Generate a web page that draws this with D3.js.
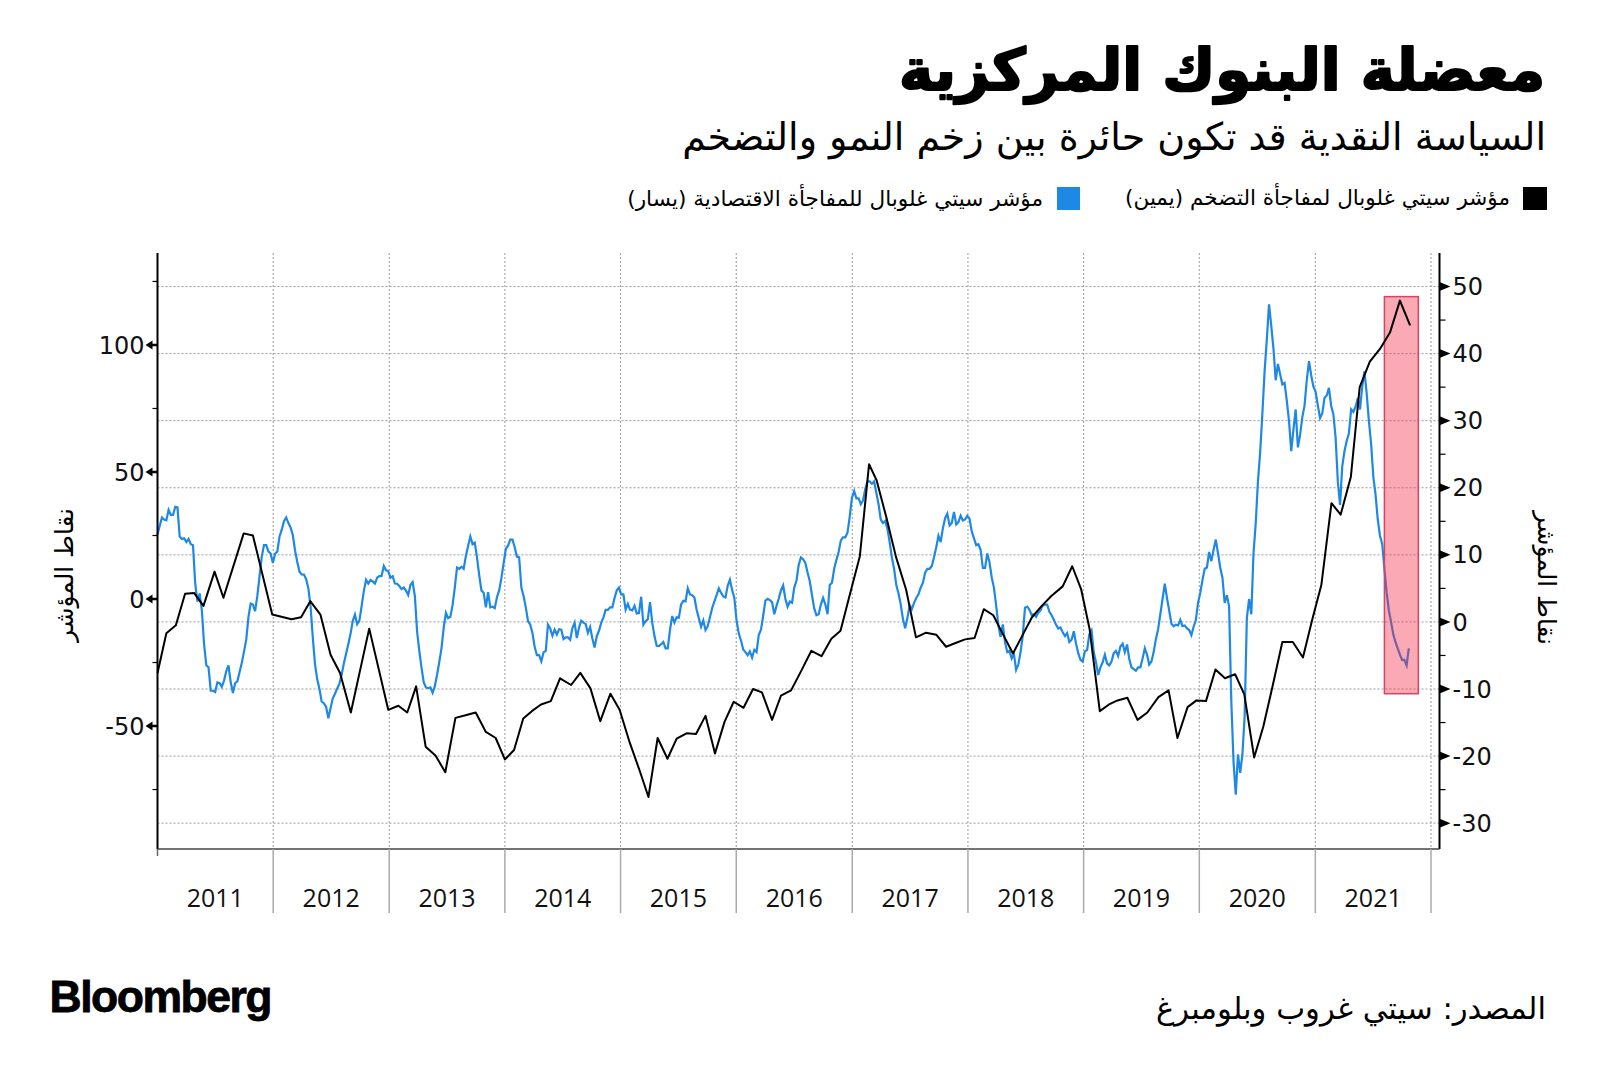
<!DOCTYPE html>
<html>
<head>
<meta charset="utf-8">
<script src="https://cdn.jsdelivr.net/npm/d3@7"></script>
<style>
  html, body { margin: 0; padding: 0; background: #fff; }
  svg { display: block; }
</style>
</head>
<body>
<div id="chart"></div>
<script>
// Central banks' dilemma: Citi inflation surprise vs Citi economic surprise

const titleText = "معضلة البنوك المركزية";
const subtitleText = "السياسة النقدية قد تكون حائرة بين زخم النمو والتضخم";
const legendInflation = "مؤشر سيتي غلوبال لمفاجأة التضخم (يمين)";
const legendEconomic = "مؤشر سيتي غلوبال للمفاجأة الاقتصادية (يسار)";
const axisTitle = "نقاط المؤشر";
const sourceText = "المصدر: سيتي غروب وبلومبرغ";

const years = [2011, 2012, 2013, 2014, 2015, 2016, 2017, 2018, 2019, 2020, 2021];
const leftTicks = [-50, 0, 50, 100];
const leftMinorTicks = [-75, -25, 25, 75, 125];
const rightTicks = [-30, -20, -10, 0, 10, 20, 30, 40, 50];
const rightMinorTicks = [-25, -15, -5, 5, 15, 25, 35, 45];

// inflation surprise index (right axis), monthly readings
const inflationSurprise = [
  ["2011-01-01",-7.6],["2011-01-29",-1.7],["2011-02-28",-0.5],["2011-03-29",4.2],["2011-04-27",4.3],["2011-05-26",2.4],
  ["2011-06-30",7.5],["2011-07-28",3.6],["2011-09-30",13.2],["2011-10-29",12.9],["2011-12-29",1.1],["2012-02-28",0.4],
  ["2012-03-29",0.7],["2012-04-27",3.1],["2012-05-29",1.1],["2012-06-30",-4.9],["2012-07-30",-7.6],["2012-09-02",-13.5],
  ["2012-10-30",-1.0],["2012-12-29",-13.1],["2013-01-30",-12.5],["2013-02-27",-13.5],["2013-03-27",-9.6],["2013-04-26",-18.6],
  ["2013-05-27",-19.9],["2013-06-27",-22.4],["2013-07-29",-14.3],["2013-08-30",-13.9],["2013-10-01",-13.5],["2013-11-02",-16.4],
  ["2013-12-03",-17.3],["2014-01-01",-20.5],["2014-01-30",-19.1],["2014-02-28",-14.4],["2014-03-27",-13.3],["2014-04-25",-12.3],
  ["2014-05-26",-11.8],["2014-06-24",-8.4],["2014-07-29",-9.4],["2014-08-27",-7.6],["2014-09-28",-9.9],["2014-10-29",-14.8],
  ["2014-11-30",-10.7],["2014-12-29",-13.1],["2015-01-30",-18.0],["2015-03-01",-22.0],["2015-03-30",-26.1],["2015-04-28",-17.3],
  ["2015-05-29",-20.4],["2015-06-27",-17.4],["2015-07-28",-16.6],["2015-08-27",-16.7],["2015-09-26",-14.0],["2015-10-26",-19.6],
  ["2015-11-25",-14.9],["2015-12-24",-11.9],["2016-01-24",-12.8],["2016-02-23",-10.0],["2016-03-22",-10.5],["2016-04-23",-14.6],
  ["2016-05-21",-11.0],["2016-06-22",-10.2],["2016-07-24",-7.3],["2016-08-25",-4.3],["2016-09-26",-5.1],["2016-10-27",-2.5],
  ["2016-11-25",-1.3],["2016-12-24",4.0],["2017-01-25",9.8],["2017-02-23",23.5],["2017-03-19",21.1],["2017-04-18",15.7],
  ["2017-05-19",9.7],["2017-06-20",4.8],["2017-07-21",-2.3],["2017-08-22",-1.6],["2017-09-23",-1.9],["2017-10-24",-3.7],
  ["2017-11-25",-3.1],["2017-12-23",-2.6],["2018-01-22",-2.4],["2018-02-20",1.9],["2018-03-22",1.0],["2018-04-20",-1.7],
  ["2018-05-23",-4.7],["2018-06-22",-2.0],["2018-07-22",0.7],["2018-08-22",2.4],["2018-09-22",3.9],["2018-10-27",5.3],
  ["2018-11-26",8.3],["2018-12-24",4.9],["2019-01-20",-1.1],["2019-02-21",-13.3],["2019-03-22",-12.3],["2019-04-18",-11.7],
  ["2019-05-19",-11.3],["2019-06-20",-14.6],["2019-07-21",-13.5],["2019-08-25",-11.2],["2019-09-26",-10.2],["2019-10-24",-17.3],
  ["2019-11-25",-12.7],["2019-12-23",-11.7],["2020-01-22",-11.8],["2020-02-21",-7.1],["2020-03-22",-8.4],["2020-04-23",-7.8],
  ["2020-05-22",-10.8],["2020-06-22",-20.2],["2020-07-21",-15.6],["2020-08-20",-9.4],["2020-09-19",-3.0],["2020-10-22",-3.0],
  ["2020-11-23",-5.3],["2020-12-22",0.3],["2021-01-20",5.5],["2021-02-21",17.7],["2021-03-22",16.0],["2021-04-23",21.6],
  ["2021-05-21",35.0],["2021-06-22",38.8],["2021-07-24",40.7],["2021-08-25",43.2],["2021-09-25",47.9],["2021-10-27",44.2]
];

// economic surprise index (left axis), weekly readings from the start date
const economicStart = "2011-01-01";
const economicStepDays = 7;
const economicSurprise = [
  25.4, 28.8, 32.1, 31.3, 31.0, 35.1, 33.1, 33.1, 36.3, 36.1,
  24.6, 23.6, 23.9, 22.4, 23.6, 21.6, 21.2, 6.0, -1.0, 2.2,
  -4.5, -17.9, -26.1, -26.9, -36.1, -36.1, -36.6, -32.8, -33.1, -34.6,
  -32.1, -28.4, -26.1, -32.8, -37.0, -33.1, -32.4, -28.7, -25.1, -20.6,
  -16.0, -7.0, -1.8, -2.2, -4.8, 1.2, 9.0, 16.7, 21.2, 21.2,
  18.7, 17.9, 14.2, 17.8, 18.7, 24.6, 27.3, 30.6, 32.1, 29.9,
  28.1, 25.1, 19.1, 14.6, 10.7, 9.7, 9.6, 7.8, 4.2, -3.0,
  -15.2, -25.7, -31.6, -35.4, -40.4, -41.0, -42.5, -46.9, -43.0, -39.1,
  -37.3, -35.2, -33.3, -29.7, -25.4, -21.5, -17.8, -13.7, -8.7, -6.1,
  -9.9, -8.5, -2.8, 3.1, 7.6, 6.1, 7.5, 6.9, 6.1, 8.4,
  9.0, 9.1, 13.0, 11.3, 11.0, 8.4, 9.0, 6.1, 6.0, 5.1,
  3.9, 4.5, 3.3, 1.6, 5.5, 6.6, 1.2, -12.7, -20.4, -27.0,
  -32.8, -34.8, -35.1, -34.8, -36.9, -34.3, -29.9, -24.8, -19.4, -11.3,
  -5.4, -7.5, -7.0, -2.4, 4.5, 12.4, 11.9, 12.7, 11.9, 16.9,
  20.9, 24.6, 21.6, 22.2, 16.4, 9.4, 3.4, 2.5, -3.3, 2.7,
  -3.3, -3.0, -3.6, 0.7, 3.4, 8.2, 14.0, 19.7, 21.0, 23.4,
  23.4, 20.4, 16.7, 16.4, 4.5, 1.2, -3.3, -8.7, -10.1, -13.4,
  -18.8, -22.1, -22.1, -24.5, -21.0, -20.4, -10.1, -11.6, -14.5, -12.1,
  -14.0, -11.9, -12.1, -15.8, -15.1, -15.1, -16.1, -11.5, -9.3, -15.4,
  -11.2, -8.5, -9.3, -9.9, -13.3, -11.0, -15.5, -19.1, -14.6, -12.5,
  -9.3, -7.2, -4.3, -4.3, -3.3, -3.3, 0.4, 3.4, 4.5, 1.8,
  1.8, -4.2, -1.9, -4.2, -4.5, -2.7, -5.7, -5.5, 0.9, -10.1,
  -8.7, -7.9, -1.2, -9.3, -14.6, -18.4, -18.5, -17.8, -16.9, -19.4,
  -19.4, -12.1, -6.7, -9.3, -7.2, -7.3, -2.1, -0.7, -0.9, 4.2,
  1.8, 1.5, 0.6, -4.2, -7.6, -10.9, -8.4, -12.2, -10.7, -7.2,
  -3.6, -0.9, 1.5, 4.2, 2.5, 1.0, 0.6, 5.2, 7.6, 3.6,
  0.4, -8.5, -13.6, -16.3, -19.9, -20.9, -22.1, -20.6, -23.1, -20.0,
  -20.9, -14.2, -12.1, -6.6, -0.6, 0.1, -0.4, -1.2, -6.0, -2.7,
  0.1, 3.4, 5.4, 0.1, -3.0, -1.0, -1.5, 4.5, 7.2, 13.4,
  16.4, 15.7, 14.2, 10.4, 7.0, 1.5, -3.7, -6.4, -6.0, -2.2,
  0.4, -2.1, -6.0, 5.5, 6.4, 11.9, 15.4, 18.5, 23.1, 24.3,
  24.3, 26.1, 32.4, 39.9, 42.5, 39.6, 39.6, 37.3, 38.8, 43.3,
  46.3, 46.3, 45.4, 46.3, 41.8, 37.3, 31.3, 29.9, 30.7, 27.6,
  22.4, 16.4, 11.9, 5.5, 2.2, -2.2, -7.9, -11.5, -7.5, -2.5,
  -4.0, -1.5, 0.4, 1.9, 4.5, 6.4, 10.4, 11.9, 11.9, 13.0,
  16.4, 20.4, 24.9, 22.4, 27.9, 31.8, 33.6, 29.0, 29.9, 34.3,
  29.4, 30.3, 32.8, 30.9, 31.3, 32.8, 31.6, 26.6, 23.9, 21.2,
  21.6, 19.4, 12.2, 12.2, 17.9, 14.5, 8.5, 4.5, -2.5, -10.4,
  -14.9, -10.0, -16.9, -20.9, -20.4, -23.4, -21.6, -27.9, -25.8, -20.9,
  -14.5, -3.4, -3.0, -4.2, -6.3, -6.0, -7.0, -5.4, -4.5, -2.5,
  -2.2, -2.2, -5.0, -6.4, -8.2, -10.1, -11.6, -11.2, -13.1, -14.6,
  -13.4, -16.9, -16.0, -12.7, -17.5, -21.3, -23.9, -24.6, -20.6, -20.1,
  -13.9, -12.4, -20.9, -24.9, -29.9, -26.9, -24.9, -21.9, -25.4, -26.1,
  -24.6, -21.3, -20.4, -22.4, -18.7, -17.6, -20.9, -17.9, -23.6, -26.9,
  -27.6, -28.2, -26.9, -26.9, -23.4, -19.4, -21.9, -25.8, -24.6, -20.9,
  -15.8, -11.9, -6.0, 0.0, 6.0, 0.4, -4.5, -9.7, -10.7, -10.1,
  -10.4, -8.2, -10.7, -10.4, -11.6, -12.2, -14.2, -10.9, -8.4, -1.5,
  2.5, 7.5, 11.9, 12.4, 18.5, 14.9, 19.4, 23.4, 17.9, 12.4,
  8.4, -1.5, 1.5, -3.0, -40.3, -64.2, -77.0, -61.2, -68.4, -61.2,
  -46.3, -7.5, 0.0, -6.0, 17.9, 29.9, 46.3, 57.8, 73.1, 89.6,
  102.2, 116.0, 107.5, 98.5, 86.1, 92.5, 88.5, 84.5, 85.1, 78.1,
  70.1, 58.2, 66.7, 74.6, 59.7, 64.6, 71.6, 76.1, 86.1, 93.6,
  88.1, 83.6, 81.6, 76.1, 71.2, 73.1, 79.1, 80.1, 83.1, 76.1,
  72.7, 63.6, 46.3, 37.0, 52.2, 58.2, 62.2, 65.2, 74.6, 73.6,
  75.7, 79.1, 74.6, 83.6, 89.6, 81.0, 70.1, 61.2, 48.2, 41.2,
  31.3, 24.9, 21.8, 11.9, 2.5, -4.5, -9.0, -13.9, -17.0, -19.4,
  -21.9, -24.0, -23.9, -26.1, -19.4
];

// highlighted window on the right axis
const highlightFrom = "2021-08-07";
const highlightTo = "2021-11-22";
const highlightRange = [-10.7, 48.5];

const W = 1600, H = 1074;
const plot = { left: 157.5, right: 1439.5, top: 253, bottom: 849 };
const arabicFont = "'DejaVu Sans', sans-serif";

const parse = d3.timeParse("%Y-%m-%d");

const svg = d3.select('#chart')
    .append('svg')
    .attr('width', W)
    .attr('height', H);

const x = d3.scaleTime()
    .domain([new Date(2011, 0, 1), new Date(2022, 0, 1)])
    .range([157.5, 1431]);

const yLeft = d3.scaleLinear()
    .domain([-98.4, 136.2])
    .range([plot.bottom, plot.top]);

const yRight = d3.scaleLinear()
    .domain([-33.85, 55.0])
    .range([plot.bottom, plot.top]);

// Fit a text element to a target width, right edge and vertical centre
function fitText(sel, rightX, centerY, targetW, baseSize) {
    sel.attr('font-size', baseSize).attr('x', 0).attr('y', 0);
    let b = sel.node().getBBox();
    const size = baseSize * targetW / b.width;
    sel.attr('font-size', size);
    b = sel.node().getBBox();
    sel.attr('x', rightX - (b.x + b.width))
       .attr('y', centerY - (b.y + b.height / 2));
}

// Header
const title = svg.append('text')
    .attr('direction', 'rtl')
    .style('font-family', arabicFont)
    .style('font-weight', 'bold')
    .attr('fill', '#000')
    .attr('stroke', '#000')
    .attr('stroke-width', 2.2)
    .attr('stroke-linejoin', 'round')
    .text(titleText);
fitText(title, 1545, 70, 646, 60);

const subtitle = svg.append('text')
    .attr('direction', 'rtl')
    .style('font-family', arabicFont)
    .attr('fill', '#000')
    .text(subtitleText);
fitText(subtitle, 1546, 137, 864, 34);

// Legend
svg.append('rect')
    .attr('x', 1523).attr('y', 187).attr('width', 24).attr('height', 23)
    .attr('fill', '#000');
const legA = svg.append('text')
    .attr('direction', 'rtl')
    .style('font-family', arabicFont)
    .attr('fill', '#000')
    .text(legendInflation);
fitText(legA, 1510, 197, 385, 20);

svg.append('rect')
    .attr('x', 1057).attr('y', 187).attr('width', 23).attr('height', 23)
    .attr('fill', '#1e88e5');
const legB = svg.append('text')
    .attr('direction', 'rtl')
    .style('font-family', arabicFont)
    .attr('fill', '#000')
    .text(legendEconomic);
fitText(legB, 1043, 197, 416, 20);

// Gridlines
const grid = svg.append('g');
grid.selectAll('line.h')
    .data(rightTicks)
    .enter().append('line')
    .attr('x1', plot.left).attr('x2', plot.right)
    .attr('y1', d => yRight(d)).attr('y2', d => yRight(d))
    .attr('stroke', '#9a9a9a')
    .attr('stroke-width', 1)
    .attr('stroke-dasharray', '2,2');

const yearBounds = years.slice(1).concat([2022]).map(y => new Date(y, 0, 1));
grid.selectAll('line.v')
    .data(yearBounds)
    .enter().append('line')
    .attr('x1', d => x(d)).attr('x2', d => x(d))
    .attr('y1', plot.top).attr('y2', plot.bottom)
    .attr('stroke', '#9a9a9a')
    .attr('stroke-width', 1)
    .attr('stroke-dasharray', '2,2');

// Economic surprise (blue, left axis)
const econData = economicSurprise.map((v, i) => ({
    date: d3.timeDay.offset(parse(economicStart), i * economicStepDays),
    value: v
}));

svg.append('path')
    .datum(econData)
    .attr('fill', 'none')
    .attr('stroke', '#1e88e5')
    .attr('stroke-width', 2.2)
    .attr('stroke-linejoin', 'miter')
    .attr('d', d3.line().x(d => x(d.date)).y(d => yLeft(d.value)));

// Highlight box
svg.append('rect')
    .attr('x', x(parse(highlightFrom)))
    .attr('width', x(parse(highlightTo)) - x(parse(highlightFrom)))
    .attr('y', yRight(highlightRange[1]))
    .attr('height', yRight(highlightRange[0]) - yRight(highlightRange[1]))
    .attr('fill', 'rgb(242,40,70)')
    .attr('fill-opacity', 0.4)
    .attr('stroke', '#d6455f')
    .attr('stroke-width', 1.5);

// Inflation surprise (black, right axis)
const inflData = inflationSurprise.map(d => ({ date: parse(d[0]), value: d[1] }));
svg.append('path')
    .datum(inflData)
    .attr('fill', 'none')
    .attr('stroke', '#000')
    .attr('stroke-width', 2)
    .attr('stroke-linejoin', 'round')
    .attr('d', d3.line().x(d => x(d.date)).y(d => yRight(d.value)));

// Axes
const axes = svg.append('g');
axes.append('line')
    .attr('x1', plot.left).attr('x2', plot.left)
    .attr('y1', plot.top).attr('y2', plot.bottom)
    .attr('stroke', '#000').attr('stroke-width', 2);
axes.append('line')
    .attr('x1', plot.right).attr('x2', plot.right)
    .attr('y1', plot.top).attr('y2', plot.bottom)
    .attr('stroke', '#000').attr('stroke-width', 2);
axes.append('line')
    .attr('x1', plot.left).attr('x2', plot.right)
    .attr('y1', plot.bottom).attr('y2', plot.bottom)
    .attr('stroke', '#444').attr('stroke-width', 1.5);

// left ticks: triangles pointing left
axes.selectAll('path.lt')
    .data(leftTicks)
    .enter().append('path')
    .attr('d', d => {
        const y = yLeft(d);
        return `M${plot.left},${y - 1.2} L${plot.left - 5},${y - 1.2} L${plot.left - 5},${y - 4.5} L${plot.left - 12},${y} L${plot.left - 5},${y + 4.5} L${plot.left - 5},${y + 1.2} L${plot.left},${y + 1.2} Z`;
    })
    .attr('fill', '#000');
axes.selectAll('line.lm')
    .data(leftMinorTicks)
    .enter().append('line')
    .attr('x1', plot.left - 5).attr('x2', plot.left)
    .attr('y1', d => yLeft(d)).attr('y2', d => yLeft(d))
    .attr('stroke', '#000').attr('stroke-width', 1.2);
axes.selectAll('text.lt')
    .data(leftTicks)
    .enter().append('text')
    .attr('x', plot.left - 13)
    .attr('y', d => yLeft(d))
    .attr('dy', '0.36em')
    .attr('text-anchor', 'end')
    .style('font-family', "'DejaVu Sans', sans-serif")
    .style('font-size', '24px')
    .attr('fill', '#111')
    .text(d => d);

// right ticks: triangles pointing right
axes.selectAll('path.rt')
    .data(rightTicks)
    .enter().append('path')
    .attr('d', d => {
        const y = yRight(d);
        return `M${plot.right},${y - 4.5} L${plot.right + 11},${y} L${plot.right},${y + 4.5} Z`;
    })
    .attr('fill', '#000');
axes.selectAll('line.rm')
    .data(rightMinorTicks)
    .enter().append('line')
    .attr('x1', plot.right).attr('x2', plot.right + 6)
    .attr('y1', d => yRight(d)).attr('y2', d => yRight(d))
    .attr('stroke', '#000').attr('stroke-width', 1.2);
axes.selectAll('text.rt')
    .data(rightTicks)
    .enter().append('text')
    .attr('x', plot.right + 13)
    .attr('y', d => yRight(d))
    .attr('dy', '0.36em')
    .attr('text-anchor', 'start')
    .style('font-family', "'DejaVu Sans', sans-serif")
    .style('font-size', '24px')
    .attr('fill', '#111')
    .text(d => d);

// year separators and labels
axes.selectAll('line.ys')
    .data(yearBounds)
    .enter().append('line')
    .attr('x1', d => x(d)).attr('x2', d => x(d))
    .attr('y1', plot.bottom).attr('y2', 913)
    .attr('stroke', '#aaa').attr('stroke-width', 1.5);
axes.append('line')
    .attr('x1', plot.left).attr('x2', plot.left)
    .attr('y1', plot.bottom).attr('y2', plot.bottom + 7)
    .attr('stroke', '#666').attr('stroke-width', 1.5);
axes.selectAll('text.yr')
    .data(years)
    .enter().append('text')
    .attr('x', d => (x(new Date(d, 0, 1)) + x(new Date(d + 1, 0, 1))) / 2)
    .attr('y', 907)
    .attr('text-anchor', 'middle')
    .style('font-family', "'Open Sans', 'Noto Sans', sans-serif")
    .style('font-size', '25px')
    .attr('fill', '#111')
    .text(d => d);

// Axis titles (rotated)
function rotatedTitle(cx, cy, angle, len) {
    const t = svg.append('text')
        .attr('direction', 'rtl')
        .attr('text-anchor', 'middle')
        .style('font-family', arabicFont)
        .attr('fill', '#000')
        .text(axisTitle);
    t.attr('font-size', 24);
    const w = t.node().getBBox().width;
    t.attr('font-size', 24 * len / w);
    const b = t.node().getBBox();
    const dx = -(b.x + b.width / 2), dy = -(b.y + b.height / 2);
    t.attr('x', dx).attr('y', dy)
     .attr('transform', `translate(${cx},${cy}) rotate(${angle})`);
}
rotatedTitle(64, 576, -90, 135);
rotatedTitle(1546, 577, 90, 135);

// Footer
const logo = svg.append('text')
    .style('font-family', "'Liberation Sans', Arial, sans-serif")
    .style('font-weight', 'bold')
    .style('letter-spacing', '-1.5px')
    .attr('fill', '#000')
    .attr('stroke', '#000')
    .attr('stroke-width', 0.8)
    .text('Bloomberg');
fitText(logo, 271, 996, 220, 40);

const source = svg.append('text')
    .attr('direction', 'rtl')
    .style('font-family', arabicFont)
    .attr('fill', '#000')
    .text(sourceText);
fitText(source, 1546, 1008, 390, 26);
</script>
</body>
</html>
